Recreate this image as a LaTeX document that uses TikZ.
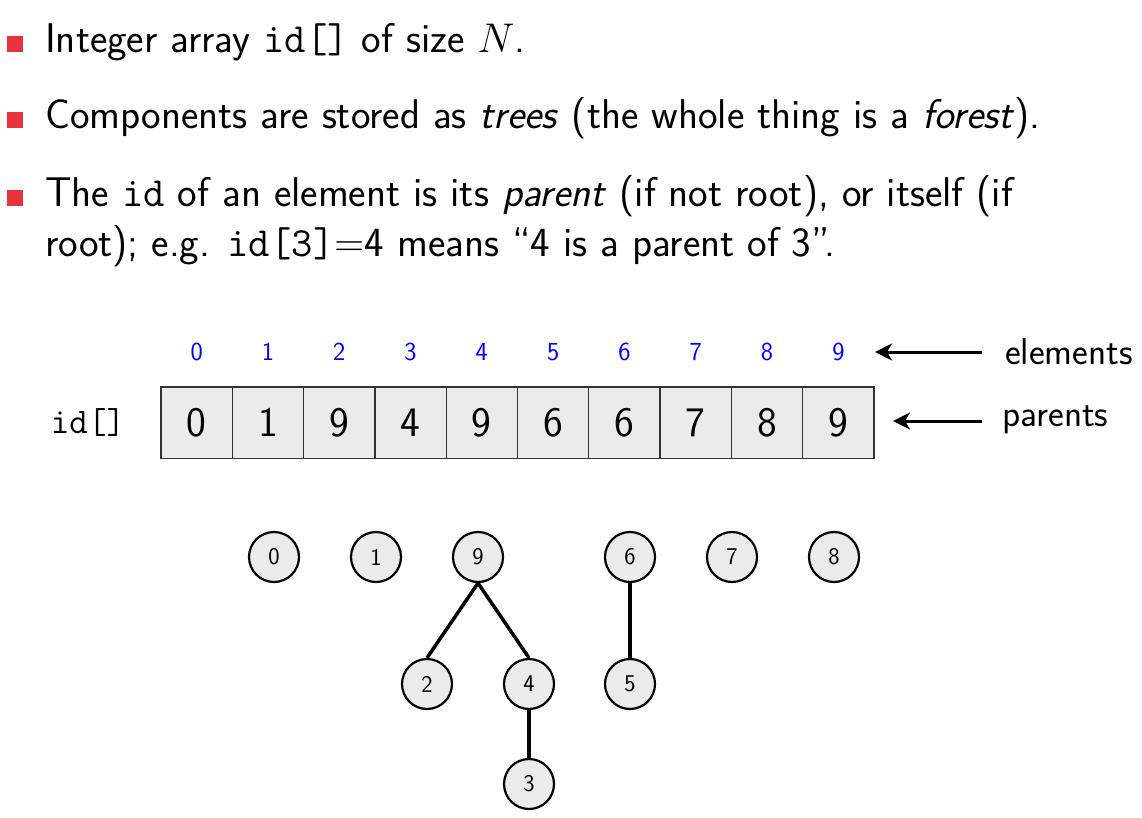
\RequirePackage{fix-cm}
\documentclass[tikz,border=0pt]{standalone}
\usepackage{tikz}
\usetikzlibrary{arrows.meta}

\definecolor{bulletred}{RGB}{232,51,62}
\definecolor{cellgray}{RGB}{235,235,235}

\newcommand{\bodytext}{\sffamily\fontsize{41.5}{51}\selectfont}
\newcommand{\celltext}{\sffamily\fontsize{42}{50}\selectfont}
\newcommand{\idxtext}{\sffamily\fontsize{26}{31}\selectfont}
\newcommand{\verttext}{\sffamily\fontsize{24}{29}\selectfont}
\newcommand{\sidetext}{\sffamily\fontsize{37.5}{45}\selectfont}

\tikzset{
  bullet/.style={fill=bulletred, minimum size=16pt, inner sep=0pt, anchor=south west},
  textline/.style={anchor=base west, inner sep=0pt, font=\bodytext},
  cell/.style={draw=black!80, line width=1.3pt, fill=cellgray, minimum size=71.3pt, inner sep=0pt, font=\celltext},
  idx/.style={text=blue, inner sep=0pt, font=\idxtext},
  vertex/.style={circle, draw, line width=2.2pt, fill=cellgray, minimum size=50pt, inner sep=0pt, font=\verttext},
  edge/.style={line width=3.5pt},
  pointer/.style={line width=3pt, -{Stealth[length=17pt,width=17pt,inset=5pt]}}
}

\begin{document}
\begin{tikzpicture}[x=1pt,y=-1pt]
\useasboundingbox (0,0) rectangle (1142,818);

% Bullet points
\node[bullet] (b1) at (7,52) {};
\node[textline] (l1) at (45,53) {Integer array \texttt{id[]} of size $N$.};
\node[bullet] (b2) at (7,128) {};
\node[textline] (l2) at (45,129) {Components are stored as \textit{trees} (the whole thing is a \textit{forest}).};
\node[bullet] (b3) at (7,206) {};
\node[textline] (l3) at (45,207) {The \texttt{id} of an element is its \textit{parent} (if not root), or itself (if};
\node[textline] (l4) at (45,256) {root); e.g. \texttt{id[3]}=4 means ``4 is a parent of 3''.};

% Array id[] with element indices
\node[font=\sffamily\fontsize{36}{43}\selectfont] (idlabel) at (88,422) {\texttt{id[]}};
\foreach \v [count=\i from 0] in {0,1,9,4,9,6,6,7,8,9} {
  \node[cell] (c\i) at ({196.65+71.3*\i},422.5) {\v};
  \node[idx] (e\i) at ({196.65+71.3*\i},352) {\i};
}

% Labels and arrows
\node[font=\sidetext, anchor=west, inner sep=0pt] (elemlabel) at (1005,352) {elements};
\node[font=\sidetext, anchor=west, inner sep=0pt] (parlabel) at (1002,420) {parents};
\coordinate (elemtail) at (982,352);
\coordinate (elemtip) at (875,352);
\coordinate (partail) at (982,421);
\coordinate (partip) at (893,421);
\draw[pointer] (elemtail) -- (elemtip);
\draw[pointer] (partail) -- (partip);

% Forest
\node[vertex] (t0) at (274,557) {0};
\node[vertex] (t1) at (376,557) {1};
\node[vertex] (t9) at (478,557) {9};
\node[vertex] (t6) at (630,557) {6};
\node[vertex] (t7) at (732,557) {7};
\node[vertex] (t8) at (834,557) {8};
\node[vertex] (t2) at (427,684) {2};
\node[vertex] (t4) at (529,684) {4};
\node[vertex] (t5) at (630,684) {5};
\node[vertex] (t3) at (529,784) {3};

\draw[edge] (t9.south) -- (t2.north);
\draw[edge] (t9.south) -- (t4.north);
\draw[edge] (t4.south) -- (t3.north);
\draw[edge] (t6.south) -- (t5.north);

\end{tikzpicture}
\end{document}
